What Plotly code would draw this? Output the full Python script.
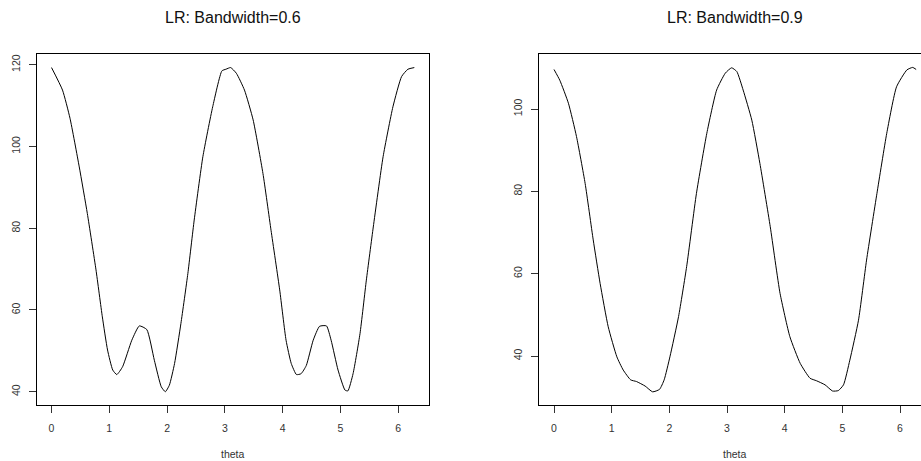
import plotly.graph_objects as go

# Left panel: LR, bandwidth 0.6
theta_a = [0.00, 0.19, 0.32, 0.48, 0.62, 0.77, 0.88, 0.97, 1.06, 1.13, 1.23, 1.39, 1.52, 1.65,
           1.78, 1.90, 1.97, 2.04, 2.13, 2.24, 2.36, 2.47, 2.62, 2.79, 2.95, 3.02, 3.10, 3.20,
           3.34, 3.49, 3.66, 3.80, 3.95, 4.06, 4.15, 4.24, 4.32, 4.41, 4.53, 4.64, 4.76, 4.84,
           4.96, 5.08, 5.13, 5.22, 5.34, 5.45, 5.57, 5.74, 5.91, 6.06, 6.17, 6.28]
fit_a = [119.3, 113.8, 106.9, 95.0, 83.6, 69.8, 58.3, 50.2, 45.3, 44.2, 46.1, 52.6, 56.1, 55.2,
         47.7, 41.2, 40.0, 41.6, 46.9, 56.7, 68.9, 82.0, 97.5, 109.7, 118.5, 118.9, 119.3, 117.9,
         113.8, 106.5, 93.4, 79.5, 64.9, 52.6, 46.9, 44.2, 44.4, 46.4, 52.6, 56.0, 56.1, 52.6,
         45.3, 40.4, 40.2, 44.4, 54.2, 67.3, 80.3, 97.5, 109.7, 117.1, 118.9, 119.3]

# Right panel: LR, bandwidth 0.9
theta_b = [0.00, 0.10, 0.25, 0.39, 0.54, 0.68, 0.80, 0.94, 1.09, 1.20, 1.33, 1.43, 1.58, 1.71,
           1.83, 1.91, 2.01, 2.16, 2.30, 2.47, 2.65, 2.82, 2.97, 3.08, 3.17, 3.28, 3.43, 3.57,
           3.75, 3.92, 4.09, 4.27, 4.44, 4.55, 4.70, 4.83, 4.93, 5.02, 5.13, 5.28, 5.42, 5.60,
           5.77, 5.94, 6.12, 6.22, 6.28]
fit_b = [109.6, 107.0, 101.4, 93.3, 81.9, 68.2, 57.6, 47.1, 39.8, 36.6, 34.2, 33.8, 32.7, 31.3,
         31.9, 34.2, 39.8, 49.6, 61.7, 79.5, 94.1, 104.6, 108.7, 110.0, 109.1, 104.6, 97.3, 86.8,
         71.4, 55.2, 44.7, 38.2, 34.6, 34.0, 33.0, 31.5, 31.6, 33.0, 39.0, 48.7, 63.3, 79.5,
         94.1, 105.4, 109.5, 110.1, 109.6]

titles = ["LR: Bandwidth=0.6", "LR: Bandwidth=0.9"]
x_label = "theta"
x_ticks = [0, 1, 2, 3, 4, 5, 6]
y_ticks_a = [40, 60, 80, 100, 120]
y_ticks_b = [40, 60, 80, 100]

FONT = "Liberation Sans, Arial, sans-serif"
W, H = 921, 461
ML, MT, MB = 37, 54, 56
plot_w = W - ML
plot_h = H - MT - MB

fig = go.Figure()
line = dict(color="black", width=1.0)
fig.add_trace(go.Scatter(x=theta_a, y=fit_a, mode="lines", line=dict(**line, shape="spline", smoothing=0.5),
                         xaxis="x", yaxis="y", showlegend=False, hoverinfo="skip"))
fig.add_trace(go.Scatter(x=theta_b, y=fit_b, mode="lines", line=dict(**line, shape="spline", smoothing=0.5),
                         xaxis="x2", yaxis="y2", showlegend=False, hoverinfo="skip"))

dom_a = [0, (429 - ML) / plot_w]
dom_b = [(539.3 - ML) / plot_w, 1]

axis_common = dict(showgrid=False, zeroline=False, showline=True, linecolor="black", linewidth=1,
                   ticks="outside", ticklen=7, tickwidth=1, tickcolor="#333333",
                   tickfont=dict(family=FONT, size=10.5, color="#333333"))

fig.update_layout(
    width=W, height=H,
    margin=dict(l=ML, r=0, t=MT, b=MB),
    paper_bgcolor="white", plot_bgcolor="white",
    xaxis=dict(domain=dom_a, range=[-0.2513, 6.5345], tickvals=x_ticks, mirror=True,
               anchor="y", ticklabelstandoff=6, **axis_common),
    yaxis=dict(domain=[0, 1], range=[36.75, 122.62], tickvals=y_ticks_a, mirror=True,
               anchor="x", tickangle=-90, ticklabelstandoff=5, **axis_common),
    xaxis2=dict(domain=dom_b, range=[-0.255, 6.364], tickvals=x_ticks, mirror=True,
                anchor="y2", ticklabelstandoff=6, **axis_common),
    yaxis2=dict(domain=[0, 1], range=[28.1, 113.36], tickvals=y_ticks_b, mirror=False,
                anchor="x2", tickangle=-90, ticklabelstandoff=5, **axis_common),
)

title_y = (H - MB - 17) / plot_h
label_y = (H - MB - 454) / plot_h
centers = [(233 - ML) / plot_w, (735 - ML) / plot_w]
for c, t in zip(centers, titles):
    fig.add_annotation(text=t, x=c, y=title_y, xref="paper", yref="paper", showarrow=False,
                       xanchor="center", yanchor="middle",
                       font=dict(family=FONT, size=16, color="#111111"))
    fig.add_annotation(text=x_label, x=c, y=label_y, xref="paper", yref="paper", showarrow=False,
                       xanchor="center", yanchor="middle",
                       font=dict(family=FONT, size=10.5, color="#333333"))

fig.write_html("out.html")
